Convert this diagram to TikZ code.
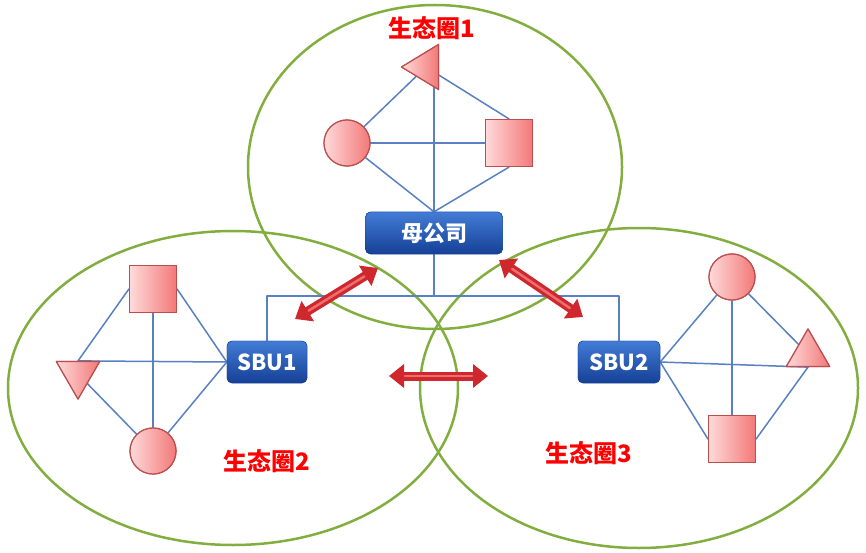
\documentclass[tikz,border=0pt]{standalone}
\usepackage{fontspec}
\newfontfamily\cjk{Noto Sans CJK SC}
\usetikzlibrary{arrows.meta,shapes.geometric}

\definecolor{ringgreen}{RGB}{130,174,64}
\definecolor{linkblue}{RGB}{88,128,194}
\definecolor{boxtop}{RGB}{66,124,214}
\definecolor{boxbottom}{RGB}{22,64,150}
\definecolor{pinklight}{RGB}{255,218,218}
\definecolor{pinkdark}{RGB}{242,120,120}
\definecolor{pinkedge}{RGB}{188,78,78}
\definecolor{arrowred}{RGB}{206,40,46}
\definecolor{arrowlight}{RGB}{238,110,112}

\tikzset{
  ring/.style={draw=ringgreen,line width=2.5pt},
  link/.style={draw=linkblue,line width=1.5pt},
  unit/.style={rounded corners=5pt,top color=boxtop,bottom color=boxbottom,draw=boxbottom,
    text=white,font=\cjk\bfseries\fontsize{22}{24}\selectfont,minimum height=42pt,inner sep=2pt},
  member/.style={left color=pinklight,right color=pinkdark,draw=pinkedge,line width=1.2pt,inner sep=0pt},
  sqmember/.style={member,rectangle,minimum size=47pt},
  cirmember/.style={member,circle,minimum size=46pt},
  trimember/.style={member,regular polygon,regular polygon sides=3,minimum size=50pt},
  lefttri/.style={member,isosceles triangle,isosceles triangle stretches,shape border rotate=180,
    minimum width=45pt,minimum height=37pt},
  eco/.style={text=red,font=\cjk\bfseries\fontsize{24}{26}\selectfont},
  biarrow/.style={draw=arrowred,line width=9pt,
    {Triangle[length=15pt,width=23pt]}-{Triangle[length=15pt,width=23pt]},
    postaction={draw=arrowlight,line width=2.5pt,-,shorten <=16pt,shorten >=16pt}}
}

\begin{document}
\begin{tikzpicture}[line cap=round,line join=round,x=1pt,y=-1pt]
\useasboundingbox (0,0) rectangle (866,553);

% ecosystems
\draw [ring] (435,167) ellipse [x radius=187,y radius=162];
\draw [ring] (233,388) ellipse [x radius=225,y radius=157];
\draw [ring] (639,388) ellipse [x radius=219,y radius=160];

% companies (placed first, drawn again on top)
\node [unit,minimum width=137pt] (mu) at (434,233) {母公司};
\node [unit,minimum width=80pt] (sbu1) at (267,362) {SBU1};
\node [unit,minimum width=82pt] (sbu2) at (619,362) {SBU2};

% members of circle 1
\node [lefttri,anchor=apex] (t1) at (400,67) {};
\node [cirmember] (c1) at (347,143) {};
\node [sqmember] (s1) at (509,143) {};

% members of circle 2
\node [sqmember] (s2) at (153,289) {};
\node [trimember,shape border rotate=180] (t2) at (78,374) {};
\node [cirmember] (c2) at (153,451) {};

% members of circle 3
\node [cirmember] (c3) at (732,277) {};
\node [trimember] (t3) at (808,354) {};
\node [sqmember] (s3) at (732,439) {};

% links
\draw [link] (mu.north) -- (mu.north |- t1.center);
\draw [link] (c1) -- (t1);
\draw [link] (t1) -- (s1.north);
\draw [link] (c1) -- (s1);
\draw [link] (c1) -- (mu.north);
\draw [link] (s1.south) -- (mu.north);
\draw [link] (s2.west) -- (t2.north);
\draw [link] (t2.north) -- (sbu1.west);
\draw [link] (s2.east) -- (sbu1.west);
\draw [link] (s2) -- (c2);
\draw [link] (t2) -- (c2);
\draw [link] (c2) -- (sbu1.west);
\draw [link] (sbu2.east) -- (t3.south);
\draw [link] (sbu2.east) -- (c3);
\draw [link] (sbu2.east) -- (s3.west);
\draw [link] (c3) -- (s3);
\draw [link] (c3) -- (t3);
\draw [link] (t3.south) -- (s3.east);

% tree
\coordinate (bus) at (434,296);
\draw [link] (mu.south) -- (bus) -| (sbu1.north);
\draw [link] (bus) -| (sbu2.north);

% redraw members over links
\node [lefttri] at (t1) {};
\node [cirmember] at (c1) {};
\node [sqmember] at (s1) {};
\node [sqmember] at (s2) {};
\node [trimember,shape border rotate=180] at (t2) {};
\node [cirmember] at (c2) {};
\node [cirmember] at (c3) {};
\node [trimember] at (t3) {};
\node [sqmember] at (s3) {};
\node [unit,minimum width=137pt] at (mu) {母公司};
\node [unit,minimum width=80pt] at (sbu1) {SBU1};
\node [unit,minimum width=82pt] at (sbu2) {SBU2};

% arrows
\coordinate (a1) at (295,319);
\coordinate (a2) at (378,268);
\coordinate (b1) at (499,260);
\coordinate (b2) at (583,317);
\coordinate (d1) at (389,376);
\coordinate (d2) at (488,376);
\draw [biarrow] (a1) -- (a2);
\draw [biarrow] (b1) -- (b2);
\draw [biarrow] (d1) -- (d2);

% labels
\node [eco] (eco1) at (432,28) {生态圈1};
\node [eco] (eco2) at (267,461) {生态圈2};
\node [eco] (eco3) at (589,453) {生态圈3};
\end{tikzpicture}
\end{document}
